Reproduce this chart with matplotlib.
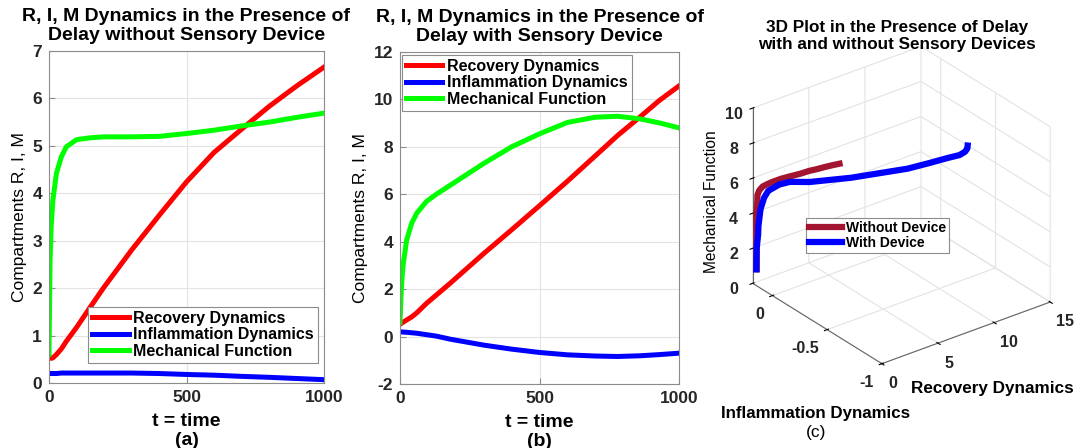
import numpy as np
import matplotlib
matplotlib.use("Agg")
import matplotlib.pyplot as plt

plt.rcParams['font.family'] = ['Liberation Sans', 'DejaVu Sans']
plt.rcParams['axes.unicode_minus'] = False
plt.rcParams['grid.color'] = '#e3e3e3'
plt.rcParams['grid.linewidth'] = 0.8

# panel (a): delay, without sensory device
t_a = [0, 4, 8, 14, 27, 45, 63, 100, 150, 200, 300, 400, 500, 600, 700, 800, 900, 1000]
R_a = [0.55, 0.53, 0.52, 0.53, 0.6, 0.72, 0.88, 1.17, 1.6, 2.02, 2.8, 3.53, 4.24, 4.86, 5.35, 5.83, 6.26, 6.66]
I_a = [0.2, 0.2, 0.2, 0.2, 0.2, 0.21, 0.21, 0.21, 0.21, 0.21, 0.21, 0.2, 0.18, 0.165, 0.14, 0.12, 0.095, 0.07]
M_a = [0.6, 2.6, 3.3, 3.85, 4.42, 4.77, 4.98, 5.13, 5.17, 5.19, 5.19, 5.2, 5.26, 5.33, 5.42, 5.5, 5.6, 5.69]

# panel (b): delay, with sensory device
t_b = [0, 4, 8, 12, 24, 42, 60, 95, 130, 180, 300, 400, 500, 600, 700, 780, 860, 930, 1000]
R_b = [0.52, 0.55, 0.58, 0.61, 0.7, 0.83, 1.0, 1.4, 1.75, 2.25, 3.5, 4.5, 5.52, 6.55, 7.62, 8.48, 9.26, 9.96, 10.57]
I_b = [0.2, 0.2, 0.19, 0.19, 0.18, 0.16, 0.14, 0.08, 0.02, -0.11, -0.36, -0.53, -0.67, -0.77, -0.82, -0.84, -0.81, -0.76, -0.70]
M_b = [0.6, 1.8, 2.6, 3.1, 4.08, 4.78, 5.2, 5.7, 6.0, 6.38, 7.3, 8.0, 8.55, 9.03, 9.25, 9.29, 9.18, 9.01, 8.8]

labels = ['Recovery Dynamics', 'Inflammation Dynamics', 'Mechanical Function']
colors = ['#ff0000', '#0000ff', '#00ff00']

W, H = 1075, 448
fig = plt.figure(figsize=(W / 100, H / 100), dpi=100)
bold = dict(fontweight='bold')


def style2d(ax):
    ax.grid(True)
    ax.set_axisbelow(True)
    for s in ax.spines.values():
        s.set_color('#8c8c8c')
    ax.tick_params(direction='in', length=4, color='#8c8c8c', labelsize=12.5,
                   labelcolor='#262626', pad=5)
    for lab in ax.get_xticklabels() + ax.get_yticklabels():
        lab.set_fontweight('bold')


def panel(ax, t, R, I, M, title, ylim, yticks, tag, leg_kw):
    lines = [ax.plot(t, v, color=c, lw=3.6)[0] for v, c in zip((R, I, M), colors)]
    ax.set_xlim(0, 1000)
    ax.set_ylim(*ylim)
    ax.set_xticks([0, 500, 1000])
    ax.set_yticks(yticks)
    style2d(ax)
    ax.set_title(title, fontsize=14, pad=8, linespacing=1.15, **bold)
    ax.set_xlabel('t = time\n' + tag, fontsize=14, labelpad=6, linespacing=1.1, **bold)
    ax.set_ylabel('Compartments R, I, M', fontsize=12.5, labelpad=4)
    leg = ax.legend(lines, labels, fancybox=False, framealpha=1,
                    edgecolor='#8c8c8c', handlelength=2.3, handletextpad=0.3,
                    borderpad=0.25, labelspacing=0.1, borderaxespad=0,
                    prop=dict(size=11.5, weight='bold'), **leg_kw)
    leg.get_frame().set_linewidth(0.8)


ax_a = fig.add_axes([49 / W, 1 - 383 / H, 275 / W, 332 / H])
panel(ax_a, t_a, R_a, I_a, M_a,
      'R, I, M Dynamics in the Presence of\nDelay without Sensory Device',
      (0, 7), range(0, 8), '(a)',
      dict(loc='lower right', bbox_to_anchor=(0.978, 0.06)))

ax_b = fig.add_axes([400 / W, 1 - 384 / H, 279 / W, 332 / H])
panel(ax_b, t_b, R_b, I_b, M_b,
      'R, I, M Dynamics in the Presence of\nDelay with Sensory Device',
      (-2, 12), range(-2, 13, 2), '(b)',
      dict(loc='upper left', bbox_to_anchor=(0.006, 0.992)))

# panel (c): 3D view of both runs
cx, cy, side = 897, 209.5, 330
ax_c = fig.add_axes([(cx - side / 2) / W, 1 - (cy + side / 2) / H, side / W, side / H],
                    projection='3d')
ax_c.set_proj_type('ortho')
ax_c.view_init(elev=28.5, azim=-127.5)
ax_c.set_box_aspect((1, 1, 0.94), zoom=1.06)
lw3 = 4.5
ax_c.plot(R_a, I_a, M_a, color='#a2142f', lw=lw3, label='Without Device')
ax_c.plot(R_b, I_b, M_b, color='#0000ff', lw=lw3, label='With Device')
ax_c.set_xlim(0, 15)
ax_c.set_ylim(-1, 0.18)
ax_c.set_zlim(0, 10)
ax_c.set_xticks([0, 5, 10, 15])
ax_c.set_yticks([-1, -0.5, 0])
ax_c.set_yticklabels(['-1', '-0.5', '0'])
ax_c.set_zticks(range(0, 11, 2))
for axis in (ax_c.xaxis, ax_c.yaxis, ax_c.zaxis):
    axis.set_pane_color((1, 1, 1, 0))
    axis.pane.set_edgecolor('#e3e3e3')
    axis.line.set_color('#666666')
    axis.line.set_linewidth(0.8)
ax_c.tick_params(labelsize=11.5, labelcolor='#262626', pad=-2)
ax_c.tick_params(axis='z', pad=0)
for lab in ax_c.get_xticklabels() + ax_c.get_yticklabels() + ax_c.get_zticklabels():
    lab.set_fontweight('bold')
for lab in ax_c.get_xticklabels():
    lab.set_horizontalalignment('left')
for lab in ax_c.get_yticklabels():
    lab.set_horizontalalignment('right')
leg3 = ax_c.legend(loc='upper left', bbox_to_anchor=((806 - cx + side / 2) / side,
                                                     1 - (218 - cy + side / 2) / side),
                   fancybox=False, framealpha=1, edgecolor='#8c8c8c', handlelength=2.4,
                   handletextpad=0.3, borderpad=0.2, labelspacing=0.1, borderaxespad=0,
                   prop=dict(size=10, weight='bold'))
leg3.get_frame().set_linewidth(0.8)

fig.text(897 / W, 1 - 36 / H, '3D Plot in the Presence of Delay\nwith and without Sensory Devices',
         ha='center', va='center', fontsize=12.3, linespacing=1.15, **bold)
fig.text(712 / W, 1 - 202 / H, 'Mechanical Function', rotation=90, ha='center', va='center',
         fontsize=11.2)
fig.text(992 / W, 1 - 388 / H, 'Recovery Dynamics', ha='center', va='center', fontsize=12.3, **bold)
fig.text(816 / W, 1 - 413 / H, 'Inflammation Dynamics', ha='center', va='center',
         fontsize=12.2, **bold)
fig.text(816 / W, 1 - 432 / H, '(c)', ha='center', va='center', fontsize=12.5)

fig.savefig('out.png', dpi=100)
